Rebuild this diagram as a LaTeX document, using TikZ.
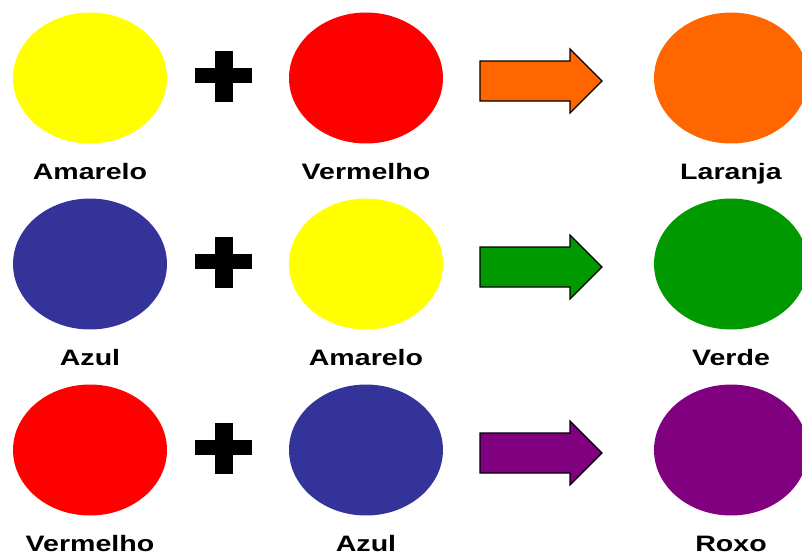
\documentclass[tikz,border=0pt]{standalone}
\usepackage{fontspec}
\newfontfamily\labelfont[FakeStretch=1.28]{Liberation Sans}
\usetikzlibrary{shapes.geometric}

\definecolor{amarelo}{HTML}{FFFF00}
\definecolor{vermelho}{HTML}{FF0000}
\definecolor{azul}{HTML}{333399}
\definecolor{laranja}{HTML}{FF6600}
\definecolor{verde}{HTML}{009900}
\definecolor{roxo}{HTML}{800080}

\tikzset{
  paint/.style={ellipse, fill=#1, inner sep=0, minimum width=3.08cm, minimum height=2.62cm},
  mixarrow/.style={draw=black, line width=0.7pt, line join=miter, fill=#1},
  colorname/.style={anchor=base, font=\labelfont\bfseries\fontsize{12.7}{14}\selectfont},
}

\begin{document}
\begin{tikzpicture}[x=0.02cm, y=-0.02cm]
  % Parameters definitions
  \def\xa{90}   % X position of the first paint
  \def\xb{366}  % X position of the second paint
  \def\xc{731}  % X position of the mixture
  \def\xplus{224} % X position of the plus
  \def\xarrow{541} % X position of the arrow
  \def\ybase{101} % Distance from paint centre to label baseline

  \useasboundingbox (0,0) rectangle (802,556);

  % Plus sign
  \newcommand{\PlusSign}[2]{%
    \fill[black] (#1-9,#2-25) rectangle (#1+9,#2+26);
    \fill[black] (#1-29,#2-8) rectangle (#1+28,#2+7);
  }
  % Block arrow
  \newcommand{\BlockArrow}[3]{%
    \draw[mixarrow=#3] (#1-61,#2-20) -- (#1+29,#2-20) -- (#1+29,#2-32)
      -- (#1+61,#2) -- (#1+29,#2+32) -- (#1+29,#2+20) -- (#1-61,#2+20) -- cycle;
  }

  % Row 1
  \begin{scope}[shift={(0,78)}]
    \node[paint=amarelo] (amarelo1) at (\xa,0) {};
    \node[paint=vermelho] (vermelho1) at (\xb,0) {};
    \node[paint=laranja] (laranja) at (\xc,0) {};
    \PlusSign{\xplus}{-2}
    \BlockArrow{\xarrow}{3}{laranja}
    \node[colorname] (lamarelo1) at (\xa,\ybase) {Amarelo};
    \node[colorname] (lvermelho1) at (\xb,\ybase) {Vermelho};
    \node[colorname] (llaranja) at (\xc,\ybase) {Laranja};
  \end{scope}

  % Row 2
  \begin{scope}[shift={(0,264)}]
    \node[paint=azul] (azul2) at (\xa,0) {};
    \node[paint=amarelo] (amarelo2) at (\xb,0) {};
    \node[paint=verde] (verde) at (\xc,0) {};
    \PlusSign{\xplus}{-2}
    \BlockArrow{\xarrow}{3}{verde}
    \node[colorname] (lazul2) at (\xa,\ybase) {Azul};
    \node[colorname] (lamarelo2) at (\xb,\ybase) {Amarelo};
    \node[colorname] (lverde) at (\xc,\ybase) {Verde};
  \end{scope}

  % Row 3
  \begin{scope}[shift={(0,450)}]
    \node[paint=vermelho] (vermelho3) at (\xa,0) {};
    \node[paint=azul] (azul3) at (\xb,0) {};
    \node[paint=roxo] (roxo) at (\xc,0) {};
    \PlusSign{\xplus}{-2}
    \BlockArrow{\xarrow}{3}{roxo}
    \node[colorname] (lvermelho3) at (\xa,\ybase) {Vermelho};
    \node[colorname] (lazul3) at (\xb,\ybase) {Azul};
    \node[colorname] (lroxo) at (\xc,\ybase) {Roxo};
  \end{scope}
\end{tikzpicture}
\end{document}
